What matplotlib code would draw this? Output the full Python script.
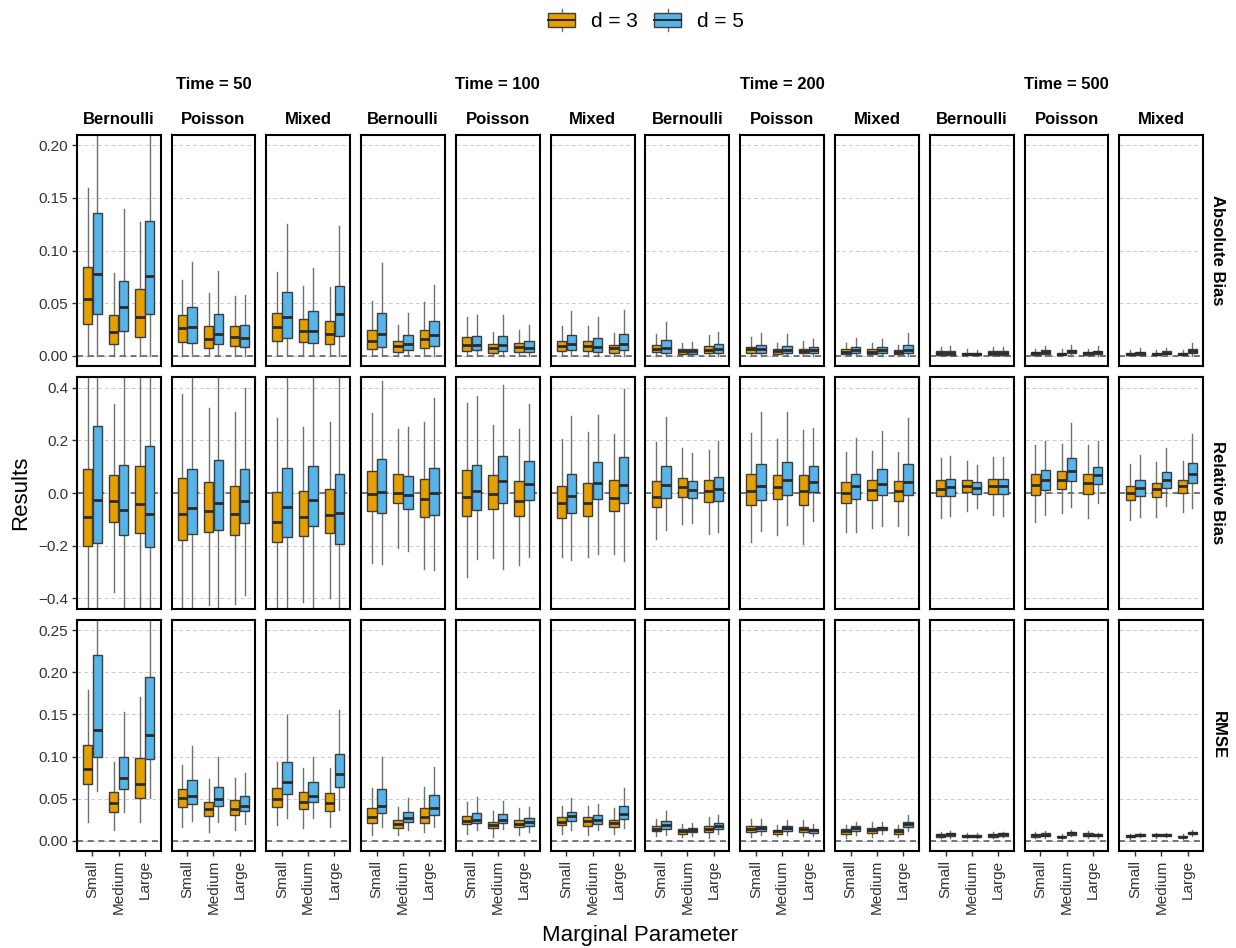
import matplotlib
matplotlib.use("Agg")
import matplotlib.pyplot as plt
from matplotlib.patches import Rectangle, Patch
from matplotlib.lines import Line2D
from matplotlib.legend_handler import HandlerBase

plt.rcParams['font.family'] = ['Liberation Sans', 'DejaVu Sans']

times = [50, 100, 200, 500]
dists = ["Bernoulli", "Poisson", "Mixed"]
sizes = ["Small", "Medium", "Large"]
groups = ["d = 3", "d = 5"]
colors = ["#E69F00", "#56B4E9"]
metrics = ["Absolute Bias", "Relative Bias", "RMSE"]

# one entry per panel (Time 50 Bern/Pois/Mixed, Time 100 ..., ...)
# 6 boxes per panel: Small d3, Small d5, Medium d3, Medium d5, Large d3, Large d5
# each box: [whisker low, q1, median, q3, whisker high]
abs_bias = [
    [[0, .030, .054, .084, .159], [0, .040, .078, .136, .24], [0, .011, .023, .039, .079],
     [0, .024, .046, .071, .139], [0, .018, .037, .063, .127], [0, .040, .076, .128, .23]],
    [[0, .013, .026, .039, .072], [0, .012, .027, .046, .089], [0, .007, .016, .028, .060],
     [0, .011, .021, .040, .081], [0, .009, .018, .028, .057], [0, .008, .017, .029, .058]],
    [[0, .014, .027, .041, .080], [0, .017, .037, .061, .125], [0, .013, .024, .035, .066],
     [0, .012, .024, .043, .083], [0, .011, .021, .033, .065], [0, .019, .040, .066, .123]],
    [[0, .0063, .0142, .0247, .0516], [0, .0082, .0206, .0402, .088], [0, .0038, .0089, .0136, .0294],
     [0, .0051, .0111, .0193, .0405], [0, .007, .0159, .0245, .051], [0, .0096, .0194, .0331, .0672]],
    [[0, .0045, .0099, .0178, .0369], [0, .0051, .0105, .0188, .0385], [0, .0029, .007, .0108, .0226],
     [0, .0048, .0102, .0185, .0388], [0, .0032, .008, .0118, .0242], [0, .0032, .0073, .014, .029]],
    [[0, .0045, .0092, .0143, .028], [0, .0051, .0115, .0197, .0423], [0, .0041, .0089, .014, .028],
     [0, .0032, .0086, .0172, .0369], [0, .0029, .007, .0102, .0216], [0, .0051, .0115, .0207, .0433]],
    [[0, .0032, .0067, .0102, .0207], [0, .0029, .007, .0146, .0321], [0, .0019, .0041, .006, .0124],
     [0, .0019, .0041, .0064, .013], [0, .0022, .0057, .0092, .0194], [0, .0029, .0067, .0108, .0226]],
    [[0, .0025, .006, .0086, .0178], [0, .0025, .006, .0099, .0213], [0, .0019, .0045, .0064, .0121],
     [0, .0025, .0057, .0096, .0207], [0, .0022, .0048, .0067, .0137], [0, .0025, .0054, .008, .0159]],
    [[0, .0016, .0038, .006, .0118], [0, .0022, .0054, .0083, .0169], [0, .0016, .0038, .006, .0118],
     [0, .0022, .0051, .008, .0156], [0, .0016, .0035, .0054, .0099], [0, .0022, .0051, .0102, .0213]],
    [[0, .001, .0029, .0041, .0086], [0, .001, .0029, .0045, .0092], [0, .0006, .0016, .0029, .006],
     [0, .0006, .0016, .0025, .0054], [0, .001, .0029, .0041, .008], [0, .001, .0029, .0041, .0086]],
    [[0, .001, .0025, .0035, .0067], [0, .0016, .0035, .0051, .0096], [0, .0006, .0019, .0029, .006],
     [0, .0022, .0041, .0057, .0099], [0, .001, .0025, .0035, .0067], [0, .0016, .0032, .0048, .0089]],
    [[0, .0006, .0016, .0025, .0051], [0, .001, .0022, .0032, .007], [0, .0006, .0016, .0025, .0051],
     [0, .0013, .0029, .0041, .0076], [0, .0006, .0016, .0025, .0054], [0, .0022, .0045, .0064, .0118]],
]

rel_bias = [
    [[-.5, -.200, -.091, .090, .5], [-.55, -.191, -.025, .256, .55], [-.378, -.111, -.030, .068, .339],
     [-.5, -.161, -.063, .108, .5], [-.5, -.152, -.041, .101, .5], [-.5, -.204, -.080, .180, .5]],
    [[-.432, -.177, -.081, .056, .375], [-.5, -.157, -.056, .092, .5], [-.427, -.149, -.067, .042, .322],
     [-.5, -.139, -.037, .127, .5], [-.423, -.158, -.078, .028, .306], [-.387, -.114, -.029, .092, .400]],
    [[-.5, -.187, -.109, .003, .284], [-.5, -.168, -.052, .095, .5], [-.415, -.163, -.092, .009, .249],
     [-.5, -.125, -.025, .101, .5], [-.399, -.153, -.082, .016, .271], [-.5, -.195, -.077, .071, .5]],
    [[-.265, -.070, -.005, .082, .304], [-.268, -.076, .004, .130, .424], [-.210, -.039, .001, .073, .242],
     [-.219, -.061, -.006, .065, .249], [-.289, -.091, -.022, .054, .268], [-.291, -.082, -.001, .096, .362]],
    [[-.318, -.086, -.014, .086, .342], [-.252, -.066, .009, .108, .368], [-.247, -.061, -.004, .068, .258],
     [-.287, -.039, .044, .141, .409], [-.275, -.087, -.029, .047, .242], [-.243, -.025, .033, .123, .338]],
    [[-.243, -.094, -.038, .025, .204], [-.254, -.075, -.010, .073, .291], [-.243, -.089, -.037, .039, .233],
     [-.230, -.024, .038, .119, .297], [-.233, -.067, -.019, .051, .223], [-.257, -.039, .032, .138, .395]],
    [[-.175, -.053, -.015, .044, .192], [-.141, -.018, .029, .104, .289], [-.119, -.015, .023, .058, .170],
     [-.115, -.020, .013, .047, .151], [-.154, -.034, .006, .048, .162], [-.147, -.032, .016, .062, .197]],
    [[-.187, -.044, .009, .071, .229], [-.144, -.025, .028, .111, .309], [-.159, -.024, .022, .067, .206],
     [-.123, -.008, .051, .119, .306], [-.195, -.046, .009, .068, .241], [-.105, .005, .043, .101, .247]],
    [[-.147, -.037, .000, .043, .157], [-.149, -.023, .025, .071, .208], [-.133, -.028, .010, .049, .161],
     [-.127, -.008, .034, .091, .237], [-.127, -.030, .009, .044, .156], [-.158, -.009, .042, .109, .284]],
    [[-.094, -.010, .016, .048, .133], [-.086, -.013, .022, .052, .139], [-.070, .003, .025, .049, .122],
     [-.056, -.003, .018, .043, .106], [-.085, -.003, .025, .054, .135], [-.086, -.005, .025, .052, .135]],
    [[-.109, -.006, .029, .072, .184], [-.085, .010, .048, .089, .199], [-.077, .014, .048, .084, .185],
     [-.052, .044, .085, .133, .265], [-.096, -.004, .038, .071, .181], [-.039, .035, .067, .100, .199]],
    [[-.101, -.027, .000, .028, .110], [-.090, -.011, .018, .051, .143], [-.092, -.014, .014, .039, .116],
     [-.048, .020, .048, .081, .172], [-.073, .000, .025, .051, .123], [-.058, .037, .072, .113, .224]],
]

rmse = [
    [[.0225, .0676, .085, .114, .179], [.0593, .0997, .132, .221, .30], [.0127, .034, .0447, .0581, .0941],
     [.0344, .0617, .0748, .0989, .153], [.0218, .0502, .0676, .0981, .1705], [.0502, .0973, .1254, .194, .29]],
    [[.0166, .0403, .0502, .0613, .0898], [.0229, .0431, .0534, .072, .1127], [.0103, .0289, .038, .0463, .0732],
     [.0225, .0407, .0498, .0641, .0993], [.0131, .0301, .0372, .0479, .074], [.0202, .0348, .0415, .0534, .0799]],
    [[.0182, .0403, .0498, .0621, .0937], [.0273, .0558, .07, .0937, .149], [.0154, .0376, .0463, .0578, .0866],
     [.0273, .0455, .0534, .0692, .100], [.0158, .0356, .0447, .0562, .0866], [.0364, .0641, .0787, .1025, .155]],
    [[.0067, .021, .0285, .0384, .0629], [.0166, .0328, .0415, .0613, .0997], [.0071, .0146, .0198, .0249, .0396],
     [.0123, .0222, .0269, .0336, .0506], [.0103, .021, .0285, .0384, .0633], [.0166, .0309, .0392, .0538, .0878]],
    [[.0083, .0194, .0237, .0297, .0455], [.0127, .0206, .0249, .0332, .0514], [.0044, .015, .0186, .0225, .0348],
     [.0142, .0214, .0249, .0313, .0467], [.0063, .0158, .0198, .0245, .0384], [.0103, .017, .0225, .0265, .0396]],
    [[.0079, .0186, .0225, .0281, .0407], [.0131, .0237, .0293, .0344, .0506], [.0067, .0178, .0229, .0277, .0407],
     [.0127, .0202, .0249, .0301, .0435], [.0083, .0158, .0206, .0249, .0384], [.0146, .0261, .032, .0411, .0625]],
    [[.0051, .0111, .0142, .0174, .0257], [.0067, .0138, .0182, .0229, .0356], [.004, .0083, .0111, .0134, .0194],
     [.0051, .0099, .0131, .015, .0206], [.0036, .0103, .0138, .0174, .0277], [.0079, .0134, .0174, .021, .0305]],
    [[.0047, .0103, .0134, .017, .0253], [.0067, .0115, .0146, .0178, .0253], [.0051, .0083, .0111, .0131, .0186],
     [.0067, .0119, .015, .0174, .0241], [.0051, .0103, .0134, .0162, .0241], [.0055, .0095, .0123, .0138, .0194]],
    [[.0036, .0079, .0111, .0134, .0186], [.0071, .0115, .0146, .017, .0222], [.004, .0091, .0127, .015, .0225],
     [.0083, .0123, .015, .0166, .0218], [.0044, .0083, .0115, .0134, .0182], [.0115, .0158, .0198, .0222, .0301]],
    [[.0028, .0047, .0067, .0079, .0103], [.0036, .0059, .0075, .0087, .0115], [.0028, .0044, .0055, .0067, .0087],
     [.0028, .0044, .0055, .0067, .0087], [.0028, .0047, .0067, .0079, .0103], [.004, .0059, .0075, .0087, .0107]],
    [[.0028, .0047, .0067, .0083, .0107], [.0036, .0051, .0071, .0087, .0115], [.0024, .004, .0047, .0059, .0083],
     [.0055, .0071, .0087, .0099, .0123], [.0032, .0051, .0071, .0087, .0119], [.0036, .0051, .0063, .0075, .0095]],
    [[.0024, .004, .0051, .0063, .0079], [.004, .0055, .0067, .0079, .0095], [.0036, .0051, .0063, .0075, .0087],
     [.004, .0055, .0063, .0075, .0091], [.0024, .004, .0047, .0059, .0079], [.0059, .0075, .0091, .0107, .0127]],
]

data = [abs_bias, rel_bias, rmse]
ylims = [(-0.01, 0.21), (-0.44, 0.44), (-0.0125, 0.2625)]
yticks = [[0, .05, .1, .15, .2], [-.4, -.2, 0, .2, .4], [0, .05, .1, .15, .2, .25]]
yfmt = ["{:.2f}", "{:.1f}", "{:.2f}"]

fig, axes = plt.subplots(3, 12, figsize=(12.36, 9.48), dpi=100)
fig.subplots_adjust(left=0.0621, right=0.9735, top=0.8579, bottom=0.102,
                    wspace=0.131, hspace=0.047)

dash = (0, (4, 3))
for r in range(3):
    for c in range(12):
        ax = axes[r, c]
        stats, pos, cols = [], [], []
        for k, s in enumerate(data[r][c]):
            lo, q1, med, q3, hi = s
            stats.append(dict(whislo=lo, q1=q1, med=med, q3=q3, whishi=hi, fliers=[]))
            g = k % 2
            pos.append(k // 2 + 1 + (g - 0.5) * 0.375)
            cols.append(colors[g])
        bp = ax.bxp(stats, positions=pos, widths=0.36, patch_artist=True,
                    showcaps=False, showfliers=False, manage_ticks=False,
                    boxprops=dict(edgecolor='#3d3d3d', linewidth=1.0),
                    medianprops=dict(color='#2b2b2b', linewidth=2.0),
                    whiskerprops=dict(color='#707070', linewidth=1.0))
        for patch, col in zip(bp['boxes'], cols):
            patch.set_facecolor(col)
            patch.set_zorder(3)
        for m in bp['medians']:
            m.set_zorder(4)

        ax.axhline(0, color='#555555', ls=dash, lw=1.1, zorder=1.5)
        ax.set_ylim(ylims[r])
        ax.set_xlim(0.4, 3.6)
        ax.set_yticks(yticks[r])
        ax.set_yticklabels([yfmt[r].format(v).replace('-', '\u2212') for v in yticks[r]])
        ax.yaxis.grid(True, color='#cccccc', ls=dash, lw=0.7)
        ax.set_axisbelow(True)
        ax.set_xticks([1, 2, 3])
        ax.set_xticklabels(sizes, rotation=90, va='top', ha='center')
        ax.tick_params(axis='both', length=3.5, width=1.0, color='#333333',
                       labelsize=11, labelcolor='#333333', pad=2.5)
        for sp in ax.spines.values():
            sp.set_linewidth(1.5)
            sp.set_color('black')
        if c > 0:
            ax.tick_params(axis='y', left=False, labelleft=False)
        if r < 2:
            ax.tick_params(axis='x', bottom=False, labelbottom=False)

        if r == 0:
            ax.annotate(dists[c % 3], xy=(0.5, 1), xycoords='axes fraction',
                        xytext=(0, 11.3), textcoords='offset points',
                        ha='center', va='center', fontsize=12, fontweight='bold')
            if c % 3 == 1:
                ax.annotate("Time = %d" % times[c // 3], xy=(0.5, 1), xycoords='axes fraction',
                            xytext=(0, 35.8), textcoords='offset points',
                            ha='center', va='center', fontsize=12, fontweight='bold')
        if c == 11:
            ax.annotate(metrics[r], xy=(1, 0.5), xycoords='axes fraction',
                        xytext=(10.6, 0), textcoords='offset points', rotation=-90,
                        ha='center', va='center', fontsize=12, fontweight='bold')

fig.text(21 / 1236, 1 - 493 / 948, "Results", rotation=90, ha='center', va='center', fontsize=16)
fig.text(640 / 1236, 1 - 935 / 948, "Marginal Parameter", ha='center', va='center', fontsize=16)


class BoxKey(HandlerBase):
    def create_artists(self, legend, orig_handle, xdescent, ydescent, width, height, fontsize, trans):
        x0, y0 = -xdescent, -ydescent
        cx = x0 + width / 2
        col = orig_handle.get_facecolor()
        w1 = Line2D([cx, cx], [y0, y0 + height * 0.2], color='#707070', lw=1.0, transform=trans)
        w2 = Line2D([cx, cx], [y0 + height * 0.8, y0 + height], color='#707070', lw=1.0, transform=trans)
        box = Rectangle((x0, y0 + height * 0.2), width, height * 0.6, facecolor=col,
                        edgecolor='#3d3d3d', lw=1.0, transform=trans)
        med = Line2D([x0, x0 + width], [y0 + height / 2] * 2, color='#2b2b2b', lw=1.5, transform=trans)
        return [w1, w2, box, med]


handles = [Patch(facecolor=col) for col in colors]
fig.legend(handles, groups, handler_map={Patch: BoxKey()}, loc='center',
           bbox_to_anchor=(646 / 1236, 1 - 20 / 948), ncol=2, frameon=False,
           fontsize=15, handlelength=1.3, handleheight=1.3, handletextpad=0.75,
           columnspacing=0.8)

fig.savefig("out.png", dpi=100)
